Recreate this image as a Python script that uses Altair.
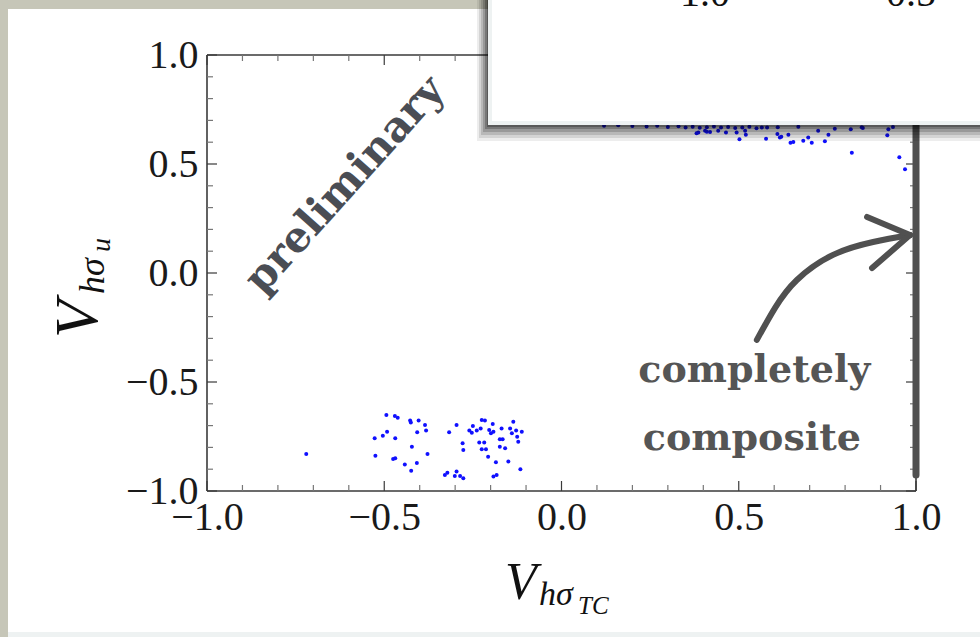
import altair as alt
import pandas as pd

# ---------------- data ----------------
# lower-left cluster of scan points
low_x = [-0.72, -0.494, -0.470, -0.462, -0.427, -0.425, -0.403, -0.385, -0.382, -0.492,
         -0.504, -0.527, -0.469, -0.407, -0.422, -0.525, -0.475, -0.469, -0.442, -0.408,
         -0.424, -0.378, -0.296, -0.317, -0.250, -0.260, -0.253, -0.239, -0.228, -0.225,
         -0.216, -0.194, -0.204, -0.199, -0.192, -0.169, -0.145, -0.136, -0.128, -0.140,
         -0.112, -0.125, -0.122, -0.174, -0.166, -0.279, -0.277, -0.232, -0.218, -0.225,
         -0.213, -0.174, -0.159, -0.207, -0.185, -0.150, -0.116, -0.192, -0.183, -0.329,
         -0.322, -0.296, -0.301, -0.286, -0.277]
low_y = [-0.83, -0.651, -0.656, -0.664, -0.677, -0.686, -0.677, -0.697, -0.723, -0.728,
         -0.746, -0.758, -0.758, -0.731, -0.797, -0.838, -0.853, -0.850, -0.879, -0.872,
         -0.907, -0.830, -0.697, -0.731, -0.702, -0.723, -0.733, -0.723, -0.713, -0.674,
         -0.677, -0.693, -0.720, -0.735, -0.728, -0.713, -0.713, -0.682, -0.723, -0.735,
         -0.728, -0.751, -0.774, -0.763, -0.763, -0.781, -0.812, -0.778, -0.778, -0.809,
         -0.809, -0.797, -0.804, -0.843, -0.868, -0.865, -0.900, -0.934, -0.927, -0.927,
         -0.916, -0.911, -0.931, -0.931, -0.942]

# upper-right cluster (largely hidden behind the inset panel)
up_x = [0.502, 0.577, 0.616, 0.646, 0.654, 0.682, 0.696, 0.706, 0.743, 0.753,
        0.724, 0.771, 0.819, 0.816, 0.850, 0.919, 0.922, 0.953, 0.969, 0.609,
        0.494, 0.520, 0.518, 0.464, 0.442, 0.419, 0.405, 0.386, 0.640, 0.668,
        0.381, 0.410, 0.620, 0.935, 0.847, 0.565,
        0.12, 0.16, 0.20, 0.24, 0.27, 0.30, 0.33, 0.35, 0.37, 0.39,
        0.41, 0.43, 0.45, 0.47, 0.49, 0.51, 0.53, 0.55, 0.58, 0.61,
        0.22, 0.34, 0.45, 0.56, 0.67, 0.78, 0.90]
up_y = [0.613, 0.616, 0.622, 0.598, 0.601, 0.607, 0.622, 0.598, 0.604, 0.634,
        0.653, 0.662, 0.552, 0.659, 0.665, 0.632, 0.659, 0.531, 0.476, 0.638,
        0.644, 0.634, 0.653, 0.644, 0.653, 0.647, 0.653, 0.644, 0.634, 0.671,
        0.641, 0.648, 0.625, 0.670, 0.669, 0.668,
        0.676, 0.678, 0.674, 0.672, 0.676, 0.670, 0.673, 0.668, 0.671, 0.666,
        0.669, 0.672, 0.667, 0.670, 0.665, 0.668, 0.671, 0.664, 0.667, 0.669,
        0.71, 0.72, 0.70, 0.73, 0.71, 0.74, 0.72]

# the dense "completely composite" column at x = 1
comp_x = [1.0]
comp_y_lo = [-0.927]
comp_y_hi = [0.72]

major_ticks = [-1.0, -0.5, 0.0, 0.5, 1.0]
minor_ticks = [-0.9, -0.8, -0.7, -0.6, -0.4, -0.3, -0.2, -0.1,
               0.1, 0.2, 0.3, 0.4, 0.6, 0.7, 0.8, 0.9]

# hand-drawn arrow
arrow_x = [0.551, 0.602, 0.664, 0.766, 0.879, 0.983]
arrow_y = [-0.307, -0.161, -0.032, 0.083, 0.142, 0.174]
head_x = [0.862, 0.876]
head_y = [0.257, 0.023]
tip_x = [0.983, 0.983]
tip_y = [0.174, 0.174]

notes = ["preliminary", "completely", "composite"]
note_x = [-0.611, 0.544, 0.537]
note_y = [0.404, -0.50, -0.81]

# ---------------- chart ----------------
W, H = 709, 436
INK = "#505050"
SERIF = "Liberation Serif"

xscale = alt.Scale(domain=[-1, 1], nice=False, zero=False)
yscale = alt.Scale(domain=[-1, 1], nice=False, zero=False)
xaxis = alt.Axis(values=major_ticks, format=".1f", title=None, ticks=False, domain=False,
                 grid=False, labelFont=SERIF, labelFontSize=40, labelColor="#1a1a1a",
                 labelPadding=6, labelFlush=False, labelOverlap=False, labelBound=False,
                 zindex=1)
yaxis = alt.Axis(values=major_ticks, format=".1f", title=None, ticks=False, domain=False,
                 grid=False, labelFont=SERIF, labelFontSize=40, labelColor="#1a1a1a",
                 labelPadding=9, labelFlush=False, labelOverlap=False, labelBound=False,
                 zindex=1)


def X(f):
    return alt.X(f, type="quantitative", scale=xscale, axis=xaxis)


def Y(f):
    return alt.Y(f, type="quantitative", scale=yscale, axis=yaxis)


one = pd.DataFrame({"k": [0]})


def box(x0, y0, x1, y1, color, opacity=1.0):
    # absolute page pixels -> plot-relative pixels
    return alt.Chart(one).mark_rect(color=color, opacity=opacity).encode(
        x=alt.value(x0 - 207), x2=alt.value(x1 - 207),
        y=alt.value(y0 - 55), y2=alt.value(y1 - 55))


layers = []
layers.append(box(8, 9, 980, 637, "#eef2f2"))
layers.append(box(8, 9, 980, 632, "#ffffff"))

# frame
frame_col = "#3a3a3a"
layers.append(alt.Chart(one).mark_rule(color=frame_col, strokeWidth=1.6).encode(
    x=alt.value(0), x2=alt.value(W), y=alt.value(H)))
layers.append(alt.Chart(one).mark_rule(color=frame_col, strokeWidth=1.6).encode(
    x=alt.value(0), x2=alt.value(W), y=alt.value(0)))
layers.append(alt.Chart(one).mark_rule(color=frame_col, strokeWidth=1.6).encode(
    x=alt.value(0), y=alt.value(0), y2=alt.value(H)))
layers.append(alt.Chart(one).mark_rule(color=frame_col, strokeWidth=1.6).encode(
    x=alt.value(W), y=alt.value(0), y2=alt.value(H)))

# inward ticks on all four sides
for vals, ln, col in [(major_ticks, 10, "#3a3a3a"), (minor_ticks, 6, "#777777")]:
    td = pd.DataFrame({"v": vals})
    layers.append(alt.Chart(td).mark_rule(color=col, strokeWidth=1.2).encode(
        x=X("v"), y=alt.value(H), y2=alt.value(H - ln)))
    layers.append(alt.Chart(td).mark_rule(color=col, strokeWidth=1.2).encode(
        x=X("v"), y=alt.value(0), y2=alt.value(ln)))
    layers.append(alt.Chart(td).mark_rule(color=col, strokeWidth=1.2).encode(
        y=Y("v"), x=alt.value(0), x2=alt.value(ln)))
    layers.append(alt.Chart(td).mark_rule(color=col, strokeWidth=1.2).encode(
        y=Y("v"), x=alt.value(W), x2=alt.value(W - ln)))

# points
pts = pd.DataFrame({"x": low_x + up_x, "y": low_y + up_y})
layers.append(alt.Chart(pts).mark_circle(color="#1010ff", size=16, opacity=1).encode(
    x=X("x"), y=Y("y")))

# composite column
cd = pd.DataFrame({"x": comp_x, "y": comp_y_lo, "y2": comp_y_hi})
layers.append(alt.Chart(cd).mark_rule(color=INK, strokeWidth=7, strokeCap="round").encode(
    x=X("x"), y=Y("y"), y2="y2"))

# arrow
ad = pd.DataFrame({"x": arrow_x, "y": arrow_y, "i": list(range(len(arrow_x)))})
layers.append(alt.Chart(ad).mark_line(color=INK, strokeWidth=6, interpolate="natural",
                                      strokeCap="round").encode(
    x=X("x"), y=Y("y"), order="i:Q"))
hd = pd.DataFrame({"x": head_x, "y": head_y, "x2": tip_x, "y2": tip_y})
layers.append(alt.Chart(hd).mark_rule(color=INK, strokeWidth=6, strokeCap="round").encode(
    x=X("x"), y=Y("y"), x2="x2", y2="y2"))

# annotations
nd = pd.DataFrame({"t": notes, "x": note_x, "y": note_y})
layers.append(alt.Chart(nd.iloc[[0]]).mark_text(
    font="DejaVu Serif", fontWeight="bold", fontSize=42, color="#4a4d54",
    angle=312, align="center", baseline="middle").encode(
    x=X("x"), y=Y("y"), text="t:N"))
layers.append(alt.Chart(nd.iloc[[1, 2]]).mark_text(
    font="DejaVu Serif", fontWeight="bold", fontSize=38, color="#555555",
    align="center", baseline="alphabetic").encode(
    x=X("x"), y=Y("y"), text="t:N"))


def label(txt, x, y, size, angle=0, style="italic"):
    return alt.Chart(one).mark_text(
        text=txt, font=SERIF, fontStyle=style, fontSize=size, color="#111111",
        align="left", baseline="alphabetic", angle=angle).encode(
        x=alt.value(x - 207), y=alt.value(y - 55))


# x-axis title  V_{h sigma_{TC}}
layers.append(label("V", 505, 599, 52))
layers.append(label("hσ", 539, 605, 34))
layers.append(label("TC", 578, 614, 25))
# y-axis title  V_{h sigma_u}
layers.append(label("V", 97, 338, 62, angle=270))
layers.append(label("hσ", 104, 294, 36, angle=270))
layers.append(label("u", 110, 252, 28, angle=270))

# inset panel with shadow (covers upper part of the plot)
for x0, y1, op in [(477, 141, 0.07), (479, 138, 0.10), (481, 135, 0.13),
                   (483, 132, 0.17), (485, 129, 0.22), (487, 127, 0.25)]:
    layers.append(box(x0, 0, 980, y1, "#000000", op))
layers.append(box(488, 0, 980, 125, "#eef2f2"))
layers.append(box(492, 0, 980, 121, "#ffffff"))
layers.append(label("1.0", 680, 6, 40, style="normal"))
layers.append(label("0.5", 886, 6, 40, style="normal"))

chart = alt.layer(*layers).properties(
    width=W, height=H,
    autosize=alt.AutoSizeParams(type="none"),
    padding={"left": 207, "top": 55, "right": 980 - 207 - W, "bottom": 637 - 55 - H},
).configure(background="#c6c6b8").configure_view(stroke="transparent")

chart.save("out.html", embed_options={"renderer": "svg", "actions": False})
